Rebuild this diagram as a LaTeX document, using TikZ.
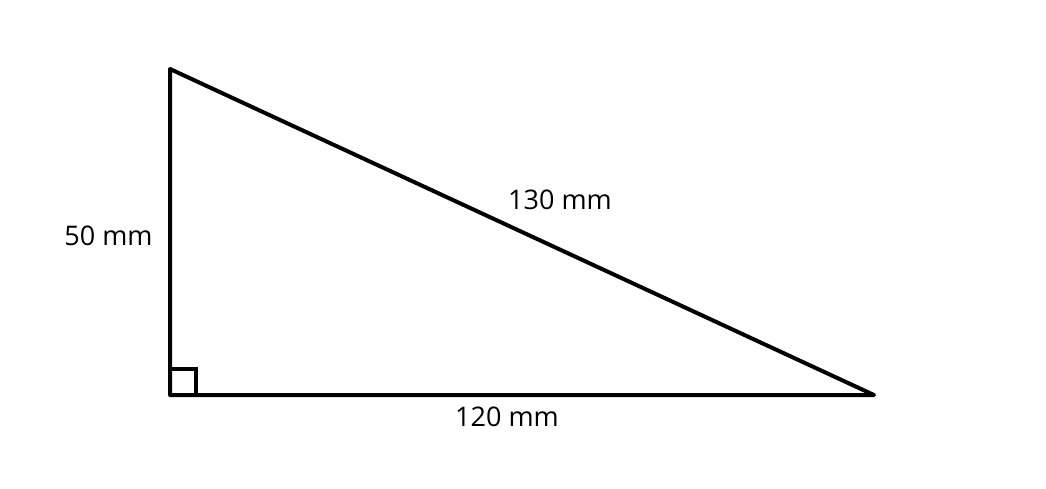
\documentclass[tikz,border=0pt]{standalone}
\usepackage{fontspec}
\setmainfont{Open Sans}
\begin{document}
\begin{tikzpicture}[x=1pt,y=-1pt,
  side/.style={line width=4pt,line cap=round,line join=round},
  lbl/.style={font=\fontsize{27}{32}\selectfont,inner sep=0pt,anchor=base}]
\useasboundingbox (0,0) rectangle (1046,489);
\coordinate (A) at (170,69);
\coordinate (B) at (170,395);
\coordinate (C) at (874,395);
\draw[side] (A) -- (B) -- (C) -- cycle;
\coordinate (S1) at (170,369);
\coordinate (S2) at (196,369);
\coordinate (S3) at (196,395);
\draw[side,line cap=butt,line join=miter] (S1) -- (S2) -- (S3);
\node[lbl] (l50) at (108.5,245) {50 mm};
\node[lbl] (l130) at (560,209) {130 mm};
\node[lbl] (l120) at (507,426) {120 mm};
\end{tikzpicture}
\end{document}
